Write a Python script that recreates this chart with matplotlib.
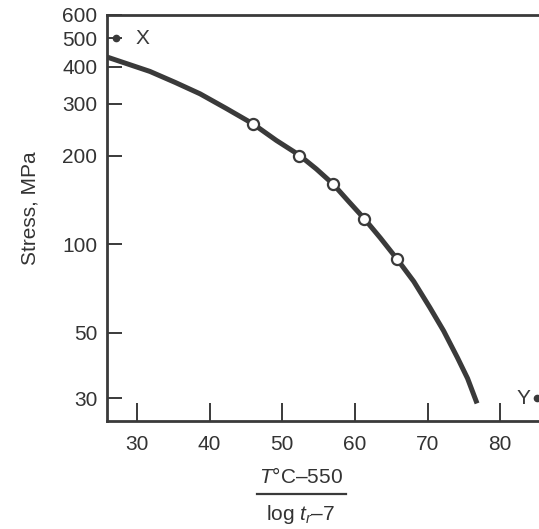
import matplotlib.pyplot as plt
from matplotlib.lines import Line2D

plt.rcParams['font.family'] = ['Liberation Sans', 'DejaVu Sans']
plt.rcParams['mathtext.fontset'] = 'custom'
plt.rcParams['mathtext.rm'] = 'Liberation Sans'
plt.rcParams['mathtext.it'] = 'Liberation Sans:italic'

# master curve (Larson-Miller type parameter vs stress)
curve_x = [25.9, 31.8, 35.3, 38.7, 42.3, 46.0, 49.2, 52.3, 54.7, 57.0, 59.1,
           61.3, 63.5, 65.8, 68.1, 70.3, 72.2, 74.1, 75.5, 76.8]
curve_y = [432, 386, 354, 324, 289, 256, 225, 201, 180, 160, 140,
           122, 105, 89, 74.7, 61, 50.8, 41.2, 35, 28.8]

# open test points
pts_x = [46.0, 52.3, 57.0, 61.3, 65.8]
pts_y = [256, 200, 160, 122, 89]

# labelled points X and Y
xy_x = [27.2, 85.0]
xy_y = [500, 30]
xy_names = ['X', 'Y']

xticks = [30, 40, 50, 60, 70, 80]
yticks = [30, 50, 100, 200, 300, 400, 500, 600]

ink = '#3a3a3a'
W, H = 539, 529
fig = plt.figure(figsize=(W / 100, H / 100), dpi=100)

xmin, xmax = 25.9, 88.0
ppu = 7.27
left, top, bottom = 107, 15, 421
ax = fig.add_axes([left / W, 1 - bottom / H, (xmax - xmin) * ppu / W, (bottom - top) / H])

ax.plot(curve_x, curve_y, color=ink, lw=3.6, solid_capstyle='butt',
        solid_joinstyle='round', zorder=2)
ax.plot(pts_x, pts_y, 'o', ms=8, mfc='white', mec=ink, mew=1.6, zorder=3)
ax.plot(xy_x, xy_y, 'o', ms=4.5, color=ink, zorder=3)
ax.text(xy_x[0] + 2.6, xy_y[0], xy_names[0], fontsize=15, color=ink, va='center', ha='left')
ax.text(xy_x[1] - 0.8, xy_y[1], xy_names[1], fontsize=15, color=ink, va='center', ha='right')

ax.set_yscale('log')
ax.set_xlim(xmin, xmax)
ax.set_ylim(25.1, 600)
ax.set_xticks(xticks)
ax.set_xticklabels([str(v) for v in xticks])
ax.set_yticks(yticks)
ax.set_yticklabels([str(v) for v in yticks])
ax.minorticks_off()

for s in ['left', 'bottom', 'top']:
    ax.spines[s].set_linewidth(2.0)
    ax.spines[s].set_color(ink)
ax.spines['right'].set_visible(False)

ax.tick_params(axis='y', direction='in', length=11, width=1.4, color=ink,
               labelsize=15, labelcolor='#333333', pad=7)
ax.tick_params(axis='x', direction='in', length=13, width=1.4, color=ink,
               labelsize=15, labelcolor='#333333', pad=10)

fig.text(30 / W, 1 - 208 / H, 'Stress, MPa', rotation=90, fontsize=15,
         color='#333333', ha='center', va='center')

# x label as a fraction
fig.text(301 / W, 1 - 477 / H, '$T$°C–550', fontsize=15, color='#333333',
         ha='center', va='center')
fig.text(301 / W, 1 - 514 / H, 'log $t_r$–7', fontsize=15, color='#333333',
         ha='center', va='center')
fig.add_artist(Line2D([257 / W, 346 / W], [1 - 494 / H, 1 - 494 / H],
                      transform=fig.transFigure, color=ink, lw=1.6))

fig.savefig('out.png', dpi=100)
